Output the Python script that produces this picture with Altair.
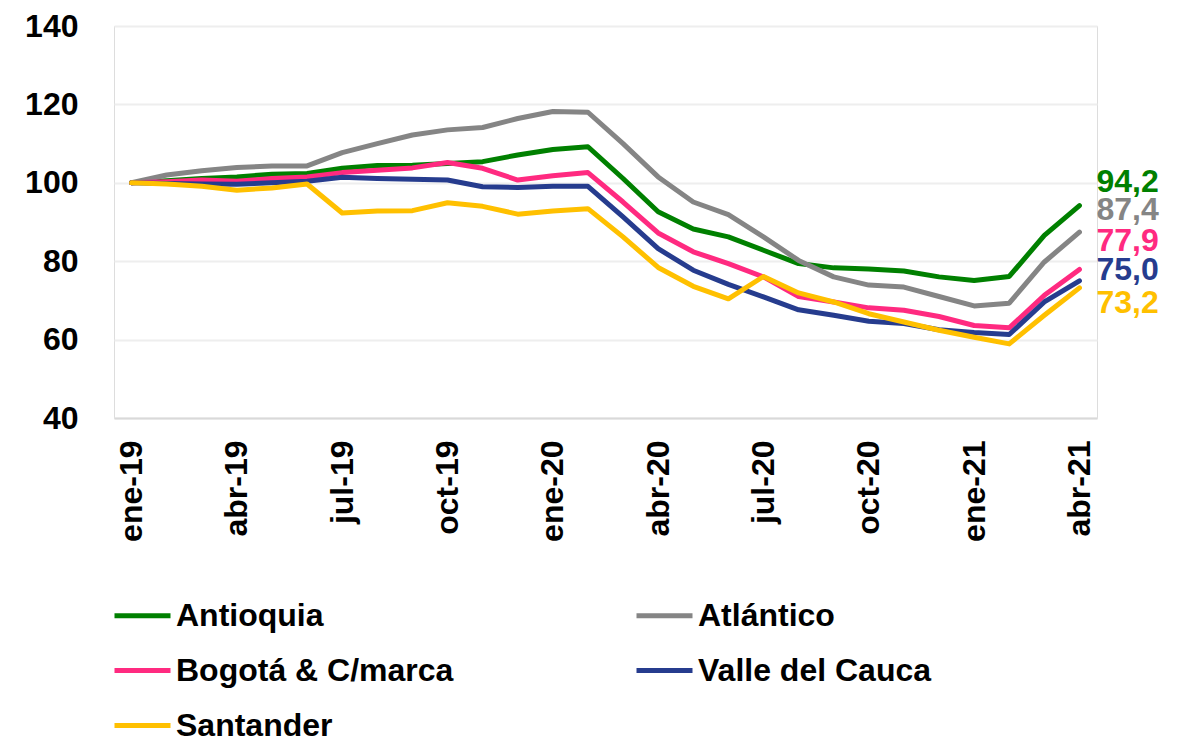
import altair as alt
import pandas as pd

months = ["ene-19", "feb-19", "mar-19", "abr-19", "may-19", "jun-19", "jul-19", "ago-19",
          "sep-19", "oct-19", "nov-19", "dic-19", "ene-20", "feb-20", "mar-20", "abr-20",
          "may-20", "jun-20", "jul-20", "ago-20", "sep-20", "oct-20", "nov-20", "dic-20",
          "ene-21", "feb-21", "mar-21", "abr-21"]
tick_months = ["ene-19", "abr-19", "jul-19", "oct-19", "ene-20", "abr-20", "jul-20",
               "oct-20", "ene-21", "abr-21"]

series_names = ["Antioquia", "Atlántico", "Bogotá & C/marca", "Valle del Cauca", "Santander"]

antioquia = [100, 100.5, 101.1, 101.5, 102.2, 102.4, 103.7, 104.4, 104.5, 104.9, 105.4, 107.1,
             108.5, 109.2, 101.1, 92.6, 88.2, 86.2, 82.8, 79.4, 78.3, 78.0, 77.5, 76.0, 75.1,
             76.1, 86.6, 94.2]
atlantico = [100, 102.0, 103.1, 103.9, 104.3, 104.3, 107.7, 110.0, 112.2, 113.5, 114.1, 116.4,
             118.2, 118.0, 110.0, 101.5, 95.1, 91.9, 86.2, 80.2, 76.0, 73.9, 73.4, 71.0, 68.6,
             69.3, 79.8, 87.4]
bogota = [100, 100.3, 100.7, 100.4, 101.1, 101.5, 102.6, 103.2, 103.8, 105.2, 103.7, 100.7,
          101.8, 102.6, 95.1, 87.2, 82.4, 79.4, 76.0, 71.0, 69.6, 68.1, 67.5, 65.9, 63.6,
          63.0, 71.3, 77.9]
valle = [100, 99.8, 99.7, 99.6, 100.0, 100.4, 101.4, 101.1, 100.9, 100.7, 99.0, 98.8,
         99.1, 99.1, 91.3, 83.2, 77.7, 74.1, 70.9, 67.6, 66.2, 64.7, 64.1, 62.5, 61.8,
         61.3, 69.6, 75.0]
santander = [100, 99.7, 99.1, 98.1, 98.7, 99.7, 92.3, 92.8, 92.9, 94.9, 94.0, 92.0,
             92.8, 93.4, 86.2, 78.4, 73.6, 70.4, 76.1, 71.9, 69.6, 66.6, 64.5, 62.4, 60.6,
             58.9, 66.2, 73.2]

# styles
colors = ["#008000", "#858585", "#FF2A80", "#263C8E", "#FFC000"]
label_offsets = [-24, -22, -28, -11, 15]  # vertical nudges of end labels (px)

FONT = "Liberation Sans"

all_series = [antioquia, atlantico, bogota, valle, santander]
rows = []
for name, vals in zip(series_names, all_series):
    for m, v in zip(months, vals):
        rows.append({"mes": m, "serie": name, "valor": v})
df = pd.DataFrame(rows)

x_scale = alt.Scale(type="point", padding=0.5)
y_scale = alt.Scale(domain=[40, 140], nice=False, zero=False)

x_enc = alt.X("mes:N", sort=months, scale=x_scale,
              axis=alt.Axis(values=tick_months, labelAngle=270, labelAlign="right",
                            labelBaseline="middle", labelPadding=22, ticks=False,
                            domain=True, domainColor="#d9d9d9", domainWidth=2,
                            labelFont=FONT, labelFontSize=32, labelFontWeight="bold",
                            labelColor="#000000", title=None, grid=False))
y_enc = alt.Y("valor:Q", scale=y_scale,
              axis=alt.Axis(values=[40, 60, 80, 100, 120, 140], ticks=False, domain=False,
                            grid=True, gridColor="#eeeeee", gridWidth=2,
                            labelFont=FONT, labelFontSize=32, labelFontWeight="bold",
                            labelColor="#000000", labelPadding=36, title=None))
color_enc = alt.Color("serie:N", sort=series_names,
                      scale=alt.Scale(domain=series_names, range=colors),
                      legend=alt.Legend(title=None, orient="none", legendX=-2, legendY=559,
                                        direction="horizontal",
                                        columns=2, columnPadding=172, rowPadding=8,
                                        symbolType="stroke", symbolSize=3136,
                                        symbolStrokeWidth=5, labelOffset=3,
                                        labelFont=FONT, labelFontSize=32,
                                        labelFontWeight="bold", labelColor="#000000",
                                        labelLimit=0))

lines = alt.Chart(df).mark_line(strokeWidth=5, strokeJoin="round", strokeCap="round").encode(
    x=x_enc, y=y_enc, color=color_enc,
)

layers = [lines]
for name, vals, col, off in zip(series_names, all_series, colors, label_offsets):
    d = pd.DataFrame([{"mes": months[-1], "valor": vals[-1],
                       "texto": f"{vals[-1]:.1f}".replace(".", ",")}])
    layers.append(
        alt.Chart(d).mark_text(align="left", baseline="middle", dx=17, dy=off, color=col,
                               font=FONT, fontSize=32, fontWeight="bold").encode(
            x=alt.X("mes:N", sort=months, scale=x_scale),
            y=alt.Y("valor:Q", scale=y_scale),
            text="texto:N",
        )
    )

chart = alt.layer(*layers).properties(
    width=983, height=392,
    autosize=alt.AutoSizeParams(type="none"),
    padding={"left": 106, "top": 18, "right": 85, "bottom": 319},
).configure_view(stroke=None).configure(background="white")

chart.save("out.html", embed_options={"renderer": "svg", "actions": False})
